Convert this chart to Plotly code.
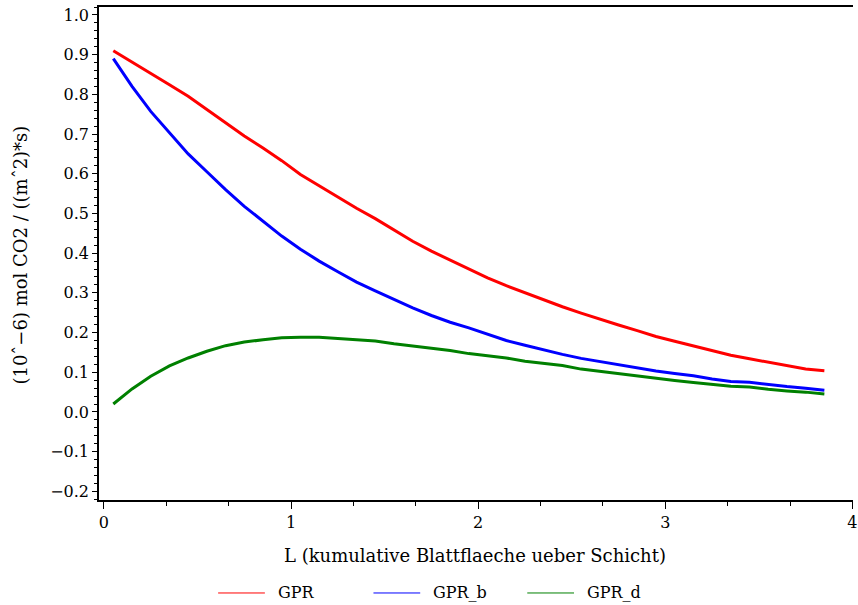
import plotly.graph_objects as go

# Cumulative leaf area index (layer midpoints)
L = [0.05, 0.15, 0.25, 0.35, 0.45, 0.55, 0.65, 0.75, 0.85, 0.95,
     1.05, 1.15, 1.25, 1.35, 1.45, 1.55, 1.65, 1.75, 1.85, 1.95,
     2.05, 2.15, 2.25, 2.35, 2.45, 2.55, 2.65, 2.75, 2.85, 2.95,
     3.05, 3.15, 3.25, 3.35, 3.45, 3.55, 3.65, 3.75, 3.85]

# Gross photosynthesis rate, total
gpr = [0.910, 0.882, 0.853, 0.824, 0.795, 0.762, 0.729, 0.695, 0.665, 0.633,
       0.598, 0.570, 0.540, 0.513, 0.487, 0.458, 0.430, 0.405, 0.382, 0.360,
       0.338, 0.318, 0.300, 0.283, 0.265, 0.249, 0.233, 0.219, 0.205, 0.190,
       0.178, 0.166, 0.154, 0.143, 0.134, 0.125, 0.117, 0.108, 0.104]

# Gross photosynthesis rate, direct share
gpr_b = [0.890, 0.820, 0.757, 0.703, 0.650, 0.605, 0.560, 0.518, 0.480, 0.443,
         0.410, 0.380, 0.353, 0.327, 0.305, 0.283, 0.262, 0.243, 0.226, 0.212,
         0.195, 0.180, 0.168, 0.156, 0.145, 0.135, 0.127, 0.119, 0.111, 0.103,
         0.097, 0.091, 0.083, 0.077, 0.075, 0.069, 0.064, 0.060, 0.055]

# Gross photosynthesis rate, diffuse share
gpr_d = [0.020, 0.058, 0.090, 0.116, 0.136, 0.153, 0.167, 0.176, 0.182, 0.187,
         0.188, 0.188, 0.185, 0.182, 0.179, 0.172, 0.166, 0.160, 0.155, 0.147,
         0.142, 0.136, 0.128, 0.123, 0.117, 0.108, 0.102, 0.097, 0.091, 0.085,
         0.079, 0.074, 0.070, 0.065, 0.063, 0.057, 0.053, 0.050, 0.045]

series = [("GPR", gpr, "#ff0000"), ("GPR_b", gpr_b, "#0000ff"), ("GPR_d", gpr_d, "#008000")]

FONT = "DejaVu Serif"

fig = go.Figure()
for name, vals, col in series:
    fig.add_trace(go.Scatter(x=L, y=vals, mode="lines", name=name,
                             line=dict(color=col, width=3), showlegend=False))

# Legend row drawn below the plot
leg_y = -0.1886
leg_x = [0.158, 0.364, 0.568]
for (name, vals, col), lx in zip(series, leg_x):
    fig.add_shape(type="line", xref="paper", yref="paper",
                  x0=lx, x1=lx + 0.062, y0=leg_y, y1=leg_y,
                  line=dict(color=col, width=1))
    fig.add_annotation(xref="paper", yref="paper", x=lx + 0.0765, y=leg_y,
                       text=name, showarrow=False, xanchor="left", yanchor="middle",
                       font=dict(family=FONT, size=16, color="black"))

# Axis titles
fig.add_annotation(xref="paper", yref="paper", x=0.499, y=-0.112,
                   text="L (kumulative Blattflaeche ueber Schicht)", showarrow=False,
                   xanchor="center", yanchor="middle",
                   font=dict(family=FONT, size=18, color="black"))
fig.add_annotation(xref="paper", yref="paper", x=-0.104, y=0.497,
                   text="(10ˆ−6) mol CO2 / ((mˆ2)*s)", showarrow=False, textangle=-90,
                   xanchor="center", yanchor="middle",
                   font=dict(family=FONT, size=18, color="black"))

fig.update_layout(
    width=858, height=605,
    margin=dict(l=99, r=0, t=7, b=105),
    paper_bgcolor="white", plot_bgcolor="white",
    font=dict(family=FONT, size=16, color="black"),
    xaxis=dict(range=[-0.0265, 4.003], tickvals=[0, 1, 2, 3, 4],
               ticks="outside", ticklen=7, tickwidth=1, tickcolor="black",
               ticklabeloverflow="allow",
               showline=True, linecolor="black", linewidth=1.5, mirror=True,
               showgrid=False, zeroline=False,
               minor=dict(tick0=0, dtick=1/3, ticks="outside", ticklen=4,
                          tickwidth=1, tickcolor="black", showgrid=False),
               tickfont=dict(family=FONT, size=16)),
    yaxis=dict(range=[-0.2217, 1.02], tick0=0, dtick=0.1, tickformat=".1f",
               ticks="outside", ticklen=5, tickwidth=1, tickcolor="black",
               showline=True, linecolor="black", linewidth=1.5,
               showgrid=False, zeroline=False,
               minor=dict(tick0=0, dtick=0.02, ticks="outside", ticklen=3,
                          tickwidth=1, tickcolor="black", showgrid=False),
               tickfont=dict(family=FONT, size=16)),
)

fig.write_html("out.html")
